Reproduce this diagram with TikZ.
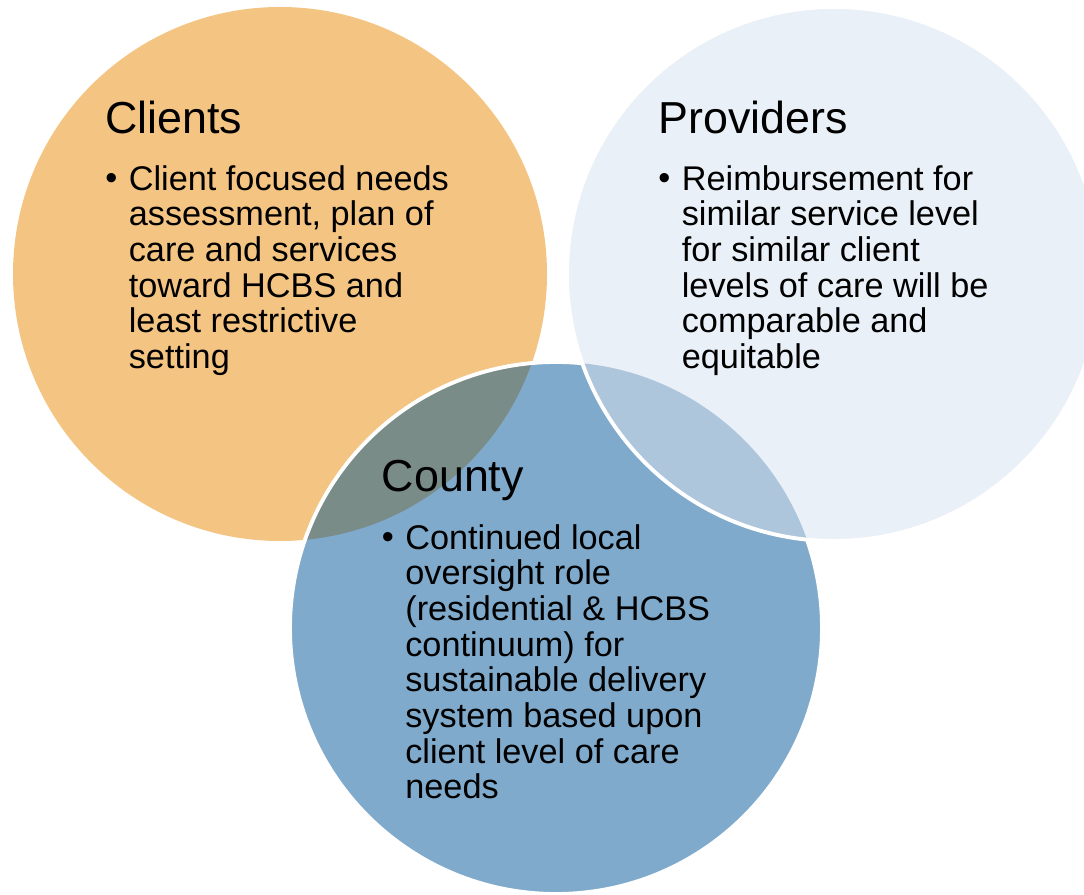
\documentclass[tikz,border=0pt]{standalone}
\usepackage{fontspec}
\setmainfont{Liberation Sans}
\usepackage{tikz}

\definecolor{clientsfill}{HTML}{F4C483}
\definecolor{countyfill}{HTML}{7FAACC}
\definecolor{providersfill}{HTML}{EAF0F7}
\definecolor{clientscounty}{HTML}{7A8C88}
\definecolor{providerscounty}{HTML}{AEC6DC}

\tikzset{
  heading/.style={anchor=base west, inner sep=0pt, font=\fontsize{25.5}{28}\selectfont},
  dot/.style={anchor=base west, inner sep=0pt, font=\fontsize{19.5}{20.3}\selectfont},
  % base of a multi-line node sits on its last line
  bodytext/.style={anchor=base west, inner sep=0pt, align=left, font=\fontsize{19.5}{20.3}\selectfont},
  rim/.style={draw=white, line width=2.2pt}
}

\begin{document}
\begin{tikzpicture}
    \clip (0,0) rectangle (21.68,17.9);
    \coordinate (clients) at (5.6,12.42);
    \coordinate (providers) at (16.68,12.42);
    \coordinate (county) at (11.12,5.34);

    % circles, bottom to top
    \fill[clientsfill] (clients) circle[radius=5.34];
    \fill[countyfill] (county) circle[radius=5.32];
    \begin{scope}
        \clip (clients) circle[radius=5.34];
        \fill[clientscounty] (county) circle[radius=5.32];
    \end{scope}
    \draw[rim] (county) circle[radius=5.32];
    \fill[providersfill] (providers) circle[radius=5.34];
    \begin{scope}
        \clip (county) circle[radius=5.32];
        \fill[providerscounty] (providers) circle[radius=5.34];
    \end{scope}
    \draw[rim] (providers) circle[radius=5.34];

    % Clients
    \node[heading] (clients-title) at (2.1,15.22) {Clients};
    \node[dot] (clients-dot) at (2.1,14.11) {•};
    \node[bodytext] (clients-text) at (2.57,10.53) {Client focused needs\\assessment, plan of\\care and services\\toward HCBS and\\least restrictive\\setting};

    % Providers
    \node[heading] (providers-title) at (13.16,15.22) {Providers};
    \node[dot] (providers-dot) at (13.16,14.11) {•};
    \node[bodytext] (providers-text) at (13.63,10.53) {Reimbursement for\\similar service level\\for similar client\\levels of care will be\\comparable and\\equitable};

    % County
    \node[heading] (county-title) at (7.63,8.07) {County};
    \node[dot] (county-dot) at (7.63,6.93) {•};
    \node[bodytext] (county-text) at (8.1,1.92) {Continued local\\oversight role\\(residential \& HCBS\\continuum) for\\sustainable delivery\\system based upon\\client level of care\\needs};
\end{tikzpicture}
\end{document}
